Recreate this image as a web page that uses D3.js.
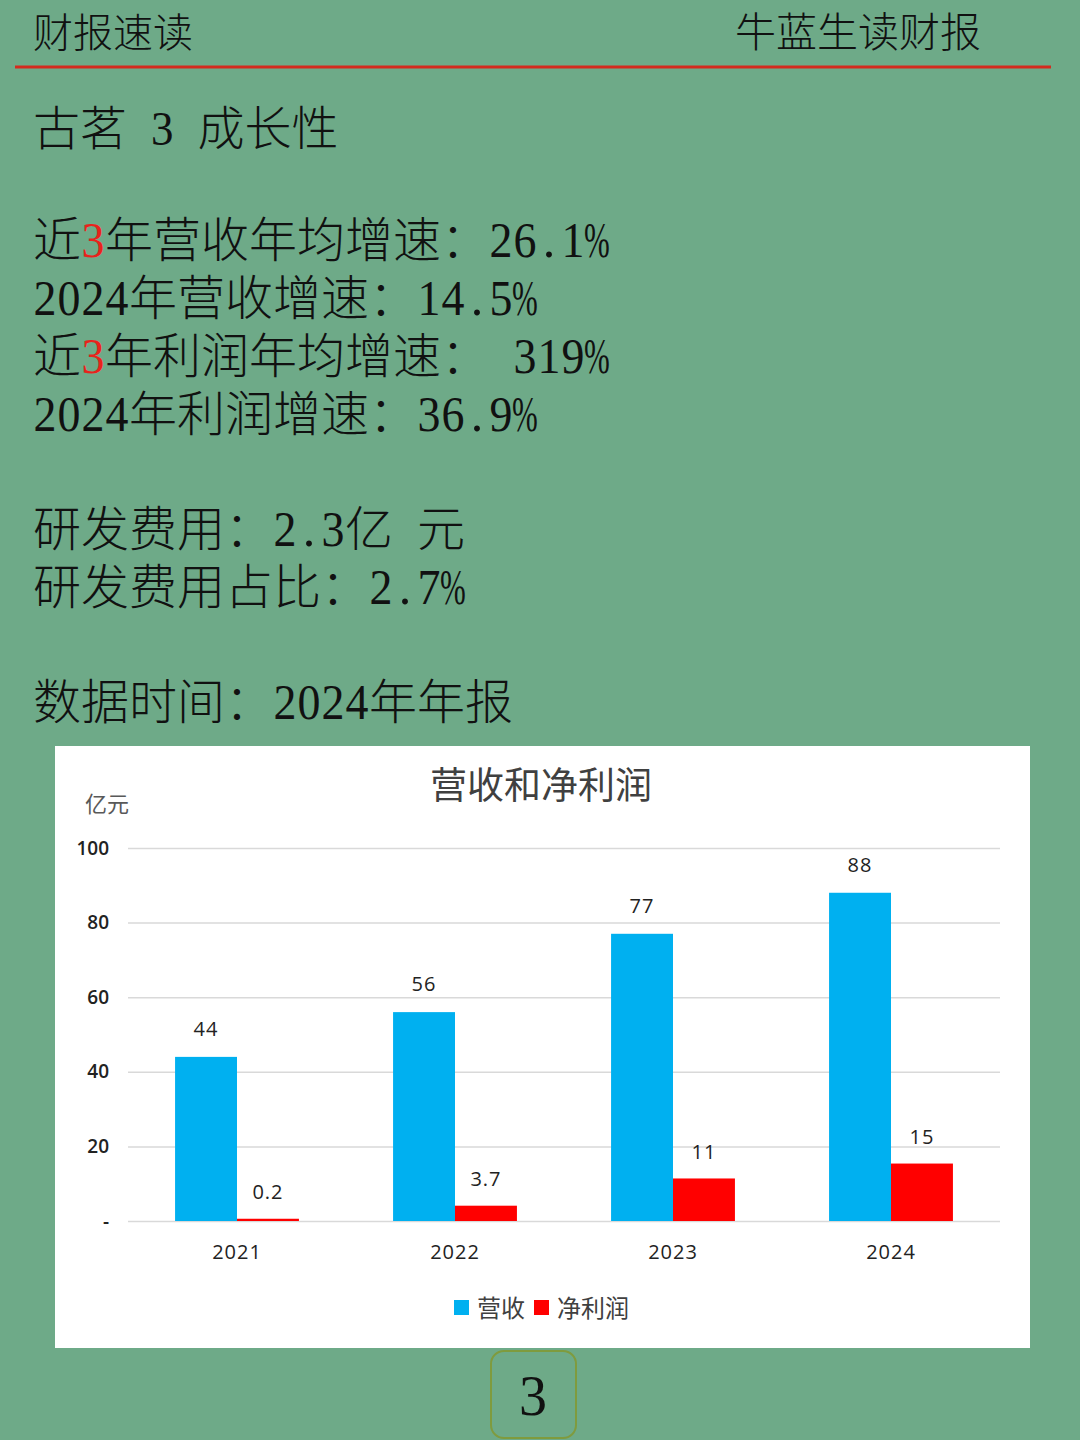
<!DOCTYPE html>
<html>
<head>
<meta charset="utf-8">
<script src="https://cdn.jsdelivr.net/npm/d3@7"></script>
<style>
  html, body { margin: 0; padding: 0; background: #6eaa88; }
  svg { display: block; }
</style>
</head>
<body>
<div id="viz"></div>
<script>
// chart data
const years = ["2021", "2022", "2023", "2024"];
const revenue = [44, 56, 77, 88];
const profit = [0.2, 3.7, 11, 15];
const profitLabels = ["0.2", "3.7", "11", "15"];
const yTicks = [0, 20, 40, 60, 80, 100];
const seriesNames = ["营收", "净利润"];
const seriesColors = ["#00b0f0", "#ff0000"];

// text block: each line is a list of [text, kind]
const titleLine = [["古茗", "cn"], [" 3 ", "num"], ["成长性", "cn"]];
const infoLines = [
	[["近", "cn"], ["3", "red"], ["年营收年均增速：", "cn"], ["26.1%", "num"]],
	[["2024", "num"], ["年营收增速：", "cn"], ["14.5%", "num"]],
	[["近", "cn"], ["3", "red"], ["年利润年均增速：", "cn"], [" 319%", "num"]],
	[["2024", "num"], ["年利润增速：", "cn"], ["36.9%", "num"]],
	[["研发费用：", "cn"], ["2.3", "num"], ["亿", "cn"], [" ", "num"], ["元", "cn"]],
	[["研发费用占比：", "cn"], ["2.7%", "num"]],
	[["数据时间：", "cn"], ["2024", "num"], ["年年报", "cn"]],
];
const lineBaselines = [257, 315, 373, 431, 546, 604, 719];

const W = 1080, H = 1440;
const cnFont = "'Noto Sans CJK SC', sans-serif";
const serifFont = "'Liberation Serif', 'DejaVu Serif', serif";
const labelFont = "'Open Sans', 'Noto Sans', sans-serif";

var svg = d3.select("#viz")
	.append("svg")
	.attr("width", W)
	.attr("height", H);

svg.append("rect").attr("width", W).attr("height", H).attr("fill", "#6eaa88");

// lay out a line: CJK chars take 1em, numbers take a half-width cell each
function drawLine(parent, segs, x0, base, size) {
	var cx = x0;
	segs.forEach(([s, kind]) => {
		if (kind === "cn") {
			parent.append("text")
				.attr("x", cx).attr("y", base)
				.attr("font-family", cnFont).attr("font-weight", 300)
				.attr("font-size", size).attr("fill", "#111")
				.text(s);
			cx += s.length * size;
		} else {
			Array.from(s).forEach((ch) => {
				if (ch !== " ") {
					var sx = ch === "%" ? 0.62 : ch === "." ? 1 : 0.92;
					parent.append("text")
						.attr("transform", `translate(${cx + size / 4},${base}) scale(${sx},1)`)
						.attr("text-anchor", "middle")
						.attr("font-family", serifFont)
						.attr("font-size", size * 1.04)
						.attr("fill", kind === "red" ? "#e8231c" : "#111")
						.text(ch);
				}
				cx += size / 2;
			});
		}
	});
}

// header
svg.append("text")
	.attr("x", 33).attr("y", 47)
	.attr("font-family", cnFont).attr("font-weight", 300)
	.attr("font-size", 40).attr("fill", "#111")
	.text("财报速读");
svg.append("text")
	.attr("x", 981).attr("y", 47)
	.attr("text-anchor", "end")
	.attr("font-family", cnFont).attr("font-weight", 300)
	.attr("font-size", 41).attr("fill", "#111")
	.text("牛蓝生读财报");
svg.append("line")
	.attr("x1", 15).attr("x2", 1051)
	.attr("y1", 67).attr("y2", 67)
	.attr("stroke", "#d42a1e").attr("stroke-width", 3);

var textBlock = svg.append("g");
drawLine(textBlock, titleLine, 33, 145, 47);
infoLines.forEach((segs, i) => drawLine(textBlock, segs, 33, lineBaselines[i], 48));

// chart panel
var panel = { x: 55, y: 746, w: 975, h: 602 };
svg.append("rect")
	.attr("x", panel.x).attr("y", panel.y)
	.attr("width", panel.w).attr("height", panel.h)
	.attr("fill", "#ffffff");

svg.append("text")
	.attr("x", 541).attr("y", 799)
	.attr("text-anchor", "middle")
	.attr("font-family", cnFont).attr("font-size", 37).attr("fill", "#404040")
	.text("营收和净利润");
svg.append("text")
	.attr("x", 85).attr("y", 812)
	.attr("font-family", cnFont).attr("font-size", 22).attr("fill", "#595959")
	.text("亿元");

// scales
const x = d3.scaleBand().domain(years).range([128, 1000]);
const sub = d3.scaleBand().domain([0, 1]).range([0, x.bandwidth()]).paddingOuter(0.76).paddingInner(0);
const y = d3.scaleLinear().domain([0, 100]).range([1221, 848]);

// gridlines
var yAxis = svg.append("g")
	.attr("transform", "translate(128,0)")
	.call(d3.axisLeft(y).tickValues(yTicks).tickSize(-872).tickPadding(19)
		.tickFormat((d) => (d === 0 ? "-" : d)));
yAxis.select(".domain").remove();
yAxis.selectAll(".tick line").attr("stroke", "#d9d9d9").attr("stroke-width", 1.5);
yAxis.selectAll(".tick text")
	.attr("font-family", labelFont).attr("font-size", 19)
	.attr("fill", "#222").attr("font-weight", 600);

// bars
var groups = svg.append("g").selectAll("g")
	.data(years)
	.join("g")
	.attr("transform", (d) => `translate(${x(d)},0)`);

groups.append("rect")
	.attr("x", sub(0)).attr("width", sub.bandwidth())
	.attr("y", (d, i) => y(revenue[i]))
	.attr("height", (d, i) => y(0) - y(revenue[i]))
	.attr("fill", seriesColors[0]);
groups.append("rect")
	.attr("x", sub(1)).attr("width", sub.bandwidth())
	.attr("y", (d, i) => y(profit[i]) - 1.5)
	.attr("height", (d, i) => y(0) - y(profit[i]) + 1.5)
	.attr("fill", seriesColors[1]);

// data labels
groups.append("text")
	.attr("x", sub(0) + sub.bandwidth() / 2)
	.attr("y", (d, i) => y(revenue[i]) - 21)
	.attr("text-anchor", "middle")
	.attr("font-family", labelFont).attr("font-size", 20).attr("fill", "#222")
	.attr("letter-spacing", 1)
	.text((d, i) => revenue[i]);
groups.append("text")
	.attr("x", sub(1) + sub.bandwidth() / 2)
	.attr("y", (d, i) => y(profit[i]) - 21)
	.attr("text-anchor", "middle")
	.attr("font-family", labelFont).attr("font-size", 20).attr("fill", "#222")
	.attr("letter-spacing", 1)
	.text((d, i) => profitLabels[i]);

// x axis labels
var xAxis = svg.append("g")
	.attr("transform", "translate(0,1221)")
	.call(d3.axisBottom(x).tickSize(0).tickPadding(24));
xAxis.select(".domain").remove();
xAxis.selectAll(".tick text")
	.attr("font-family", labelFont).attr("font-size", 20)
	.attr("letter-spacing", 1)
	.attr("fill", "#222").attr("font-weight", 500);

// legend
var legendX = [454, 534];
var legend = svg.append("g").selectAll("g")
	.data(seriesNames)
	.join("g")
	.attr("transform", (d, i) => `translate(${legendX[i]},1300)`);
legend.append("rect")
	.attr("width", 15).attr("height", 15)
	.attr("fill", (d, i) => seriesColors[i]);
legend.append("text")
	.attr("x", 23).attr("y", 17)
	.attr("font-family", cnFont).attr("font-size", 24).attr("fill", "#404040")
	.text((d) => d);

// page number
svg.append("rect")
	.attr("x", 491).attr("y", 1351)
	.attr("width", 85).attr("height", 87).attr("rx", 13)
	.attr("fill", "none").attr("stroke", "#7f9b3e").attr("stroke-width", 2);
svg.append("text")
	.attr("x", 533).attr("y", 1415)
	.attr("text-anchor", "middle")
	.attr("font-family", serifFont).attr("font-size", 56).attr("fill", "#111")
	.text("3");
</script>
</body>
</html>
